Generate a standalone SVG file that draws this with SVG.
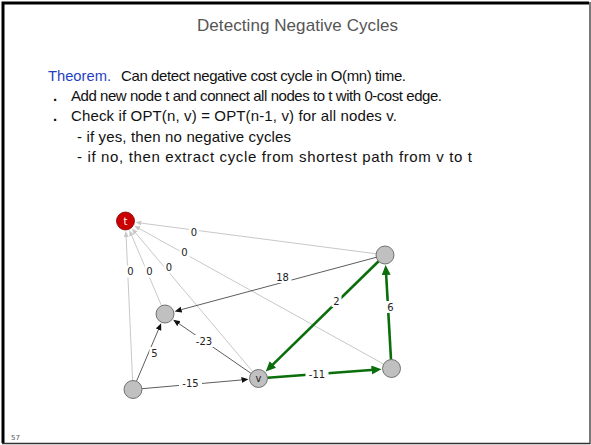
<svg xmlns="http://www.w3.org/2000/svg" width="591" height="445" viewBox="0 0 591 445">
<defs>
<style>
.title{font-family:"Liberation Sans",Arial,sans-serif;font-size:17px;fill:#555}
.body{font-family:"Liberation Sans",Arial,sans-serif;font-size:15px;fill:#111}
.blue{fill:#1f3fbf}
.gl{stroke:#c8c8c8;stroke-width:1;fill:none}
.bl{stroke:#333;stroke-width:0.8;fill:none}
.gr{stroke:#0a6e0a;stroke-width:2.6;fill:none}
.node{fill:#c0c0c0;stroke:#555;stroke-width:0.8}
.lbl{font-family:"DejaVu Sans",Verdana,sans-serif;font-size:10px;fill:#222;text-anchor:middle;dominant-baseline:central}
.lbg{fill:#fff}
</style>
<marker id="ag" markerUnits="userSpaceOnUse" markerWidth="8" markerHeight="6" refX="1" refY="2.5" orient="auto"><path d="M0,0 L6,2.5 L0,5 z" fill="#c8c8c8"/></marker>
<marker id="ab" markerUnits="userSpaceOnUse" markerWidth="9" markerHeight="7" refX="2" refY="3" orient="auto"><path d="M0,0 L7,3 L0,6 z" fill="#111"/></marker>
<marker id="agr" markerUnits="userSpaceOnUse" markerWidth="12" markerHeight="10" refX="3" refY="4.5" orient="auto"><path d="M0,0 L10,4.5 L0,9 z" fill="#0a6e0a"/></marker>
</defs>
<rect width="591" height="445" fill="#fff"/>
<path d="M3,443 V3 H589" fill="none" stroke="#000" stroke-width="3"/>
<path d="M590,2 V443.5 H2" fill="none" stroke="#333" stroke-width="1.3"/>
<text class="title" x="297.5" y="31" text-anchor="middle" textLength="201" lengthAdjust="spacing">Detecting Negative Cycles</text>
<text class="body blue" x="48" y="81" textLength="63" lengthAdjust="spacingAndGlyphs">Theorem.</text>
<text class="body" x="121" y="81" textLength="285" lengthAdjust="spacing">Can detect negative cost cycle in O(mn) time.</text>
<text class="body" x="53" y="101" font-weight="bold">.</text>
<text class="body" x="71" y="101" textLength="371" lengthAdjust="spacing">Add new node t and connect all nodes to t with 0-cost edge.</text>
<text class="body" x="53" y="121" font-weight="bold">.</text>
<text class="body" x="71" y="121" textLength="326" lengthAdjust="spacing">Check if OPT(n, v) = OPT(n-1, v) for all nodes v.</text>
<text class="body" x="77" y="142" textLength="214" lengthAdjust="spacing">- if yes, then no negative cycles</text>
<text class="body" x="77" y="162" textLength="395" lengthAdjust="spacing">- if no, then extract cycle from shortest path from v to t</text>
<g id="connectors">
<line class="gl" x1="376.1" y1="253.8" x2="140.4" y2="223" marker-end="url(#ag)"/>
<line class="gl" x1="383.6" y1="364.1" x2="138.6" y2="228.2" marker-end="url(#ag)"/>
<line class="gl" x1="252.7" y1="371.6" x2="135.1" y2="232.4" marker-end="url(#ag)"/>
<line class="gl" x1="161.5" y1="305.7" x2="131.4" y2="234.8" marker-end="url(#ag)"/>
<line class="gl" x1="132.6" y1="380.5" x2="126.1" y2="236" marker-end="url(#ag)"/>
<line class="bl" x1="376.3" y1="257.3" x2="179.5" y2="310.1" marker-end="url(#ab)"/>
<line class="bl" x1="251.1" y1="373.4" x2="177.3" y2="322.5" marker-end="url(#ab)"/>
<line class="bl" x1="136.5" y1="381.2" x2="159.2" y2="327.8" marker-end="url(#ab)"/>
<line class="bl" x1="142" y1="388.7" x2="243.5" y2="379.8" marker-end="url(#ab)"/>
<line class="gr" x1="378.6" y1="261.3" x2="270.7" y2="366.6" marker-end="url(#agr)"/>
<line class="gr" x1="267.5" y1="377.8" x2="374.5" y2="369.8" marker-end="url(#agr)"/>
<line class="gr" x1="391" y1="359.5" x2="386" y2="272" marker-end="url(#agr)"/>
<rect class="lbg" x="189" y="226" width="10" height="12"/><text class="lbl" x="194" y="232">0</text>
<rect class="lbg" x="179.5" y="246.5" width="10" height="12"/><text class="lbl" x="184.5" y="252.5">0</text>
<rect class="lbg" x="164" y="261.5" width="10" height="12"/><text class="lbl" x="169" y="267.5">0</text>
<rect class="lbg" x="144.5" y="265.5" width="10" height="12"/><text class="lbl" x="149.5" y="271.5">0</text>
<rect class="lbg" x="125.5" y="265.5" width="10" height="12"/><text class="lbl" x="130.5" y="271.5">0</text>
<rect class="lbg" x="273.5" y="271" width="18" height="12"/><text class="lbl" x="282.5" y="277">18</text>
<rect class="lbg" x="192.5" y="335" width="23" height="12"/><text class="lbl" x="204" y="341">-23</text>
<rect class="lbg" x="149.5" y="347" width="10" height="12"/><text class="lbl" x="154.5" y="353">5</text>
<rect class="lbg" x="179" y="377.5" width="23" height="12"/><text class="lbl" x="190.5" y="383.5">-15</text>
<rect class="lbg" x="331.5" y="295" width="10" height="12"/><text class="lbl" x="336.5" y="301">2</text>
<rect class="lbg" x="305.5" y="368" width="23" height="12"/><text class="lbl" x="317" y="374">-11</text>
<rect class="lbg" x="385.5" y="301" width="10" height="12"/><text class="lbl" x="390.5" y="307">6</text>
</g>
<g id="node-t"><circle cx="125.5" cy="221" r="9" fill="#cc0000" stroke="#7a0000" stroke-width="0.8"/><text class="lbl" x="125.5" y="221" style="fill:#fff">t</text></g>
<g id="node-a"><circle class="node" cx="165" cy="314" r="9"/></g>
<g id="node-b"><circle class="node" cx="133" cy="389.5" r="9"/></g>
<g id="node-v"><circle class="node" cx="258.5" cy="378.5" r="9"/><text class="lbl" x="258.5" y="378.5">v</text></g>
<g id="node-c"><circle class="node" cx="385" cy="255" r="9"/></g>
<g id="node-d"><circle class="node" cx="391.5" cy="368.5" r="9"/></g>
<text x="11" y="440" font-family="DejaVu Sans, sans-serif" font-size="7" fill="#555">57</text>
</svg>
